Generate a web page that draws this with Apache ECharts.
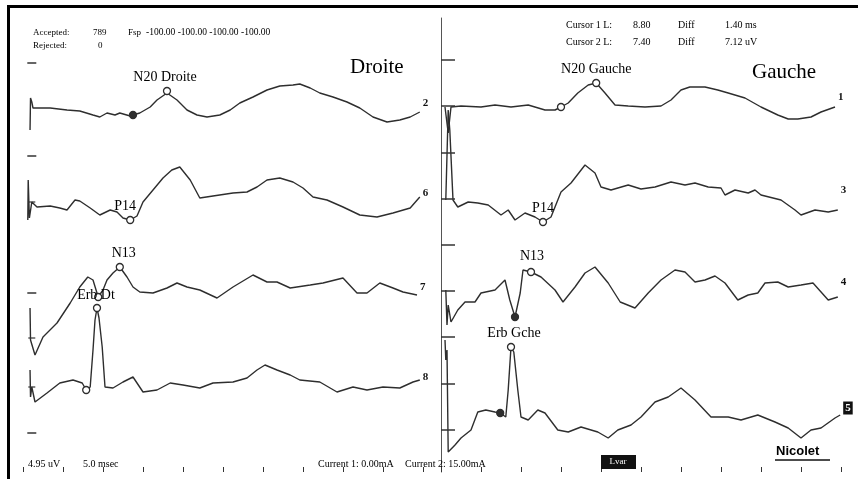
<!DOCTYPE html>
<html>
<head>
<meta charset="utf-8">
<script src="https://cdn.jsdelivr.net/npm/echarts@6/dist/echarts.min.js"></script>
<style>
html, body { margin: 0; padding: 0; background: #fff; }
#chart { width: 858px; height: 479px; }
</style>
</head>
<body>
<div id="chart"></div>
<script>
// traces: [time ms, amplitude uV] relative to each channel baseline
var droite2 = [[0.88,-2.2],[0.94,1.0],[1.1,0.6],[1.25,0],[3.4,0],[5.5,-0.2],[7.1,-0.3],[8.75,-0.7],[9.6,-0.9],[10.5,-0.5],[11.5,-0.7],[12.1,-0.5],[13.4,-0.8],[13.75,-0.7],[14.6,-0.5],[15.9,0.1],[16.75,0.8],[18.0,1.5],[19.25,0.8],[20.5,-0.2],[21.75,-0.7],[23.0,-0.9],[24.6,-0.7],[25.9,-0.2],[27.1,0.5],[28.75,1.1],[30.5,1.8],[32.1,2.2],[33.75,2.3],[34.6,2.4],[35.9,2.0],[37.1,1.5],[38.75,1.1],[40.5,0.6],[42.1,0],[43.75,-0.9],[45.5,-1.4],[47.1,-1.2],[48.4,-0.9],[49.6,-0.4]];
var droite6 = [[0.6,-1.2],[0.65,2.8],[0.8,-1.0],[1.1,0.6],[1.75,0.1],[3.4,0.2],[4.6,0],[5.5,-0.2],[6.5,0.8],[7.1,0.7],[8.4,0],[9.6,-0.7],[10.9,-0.2],[11.75,-0.4],[12.5,-1.0],[13.4,-1.2],[14.25,-0.8],[15.0,0.6],[16.25,1.8],[17.5,3.0],[18.6,3.8],[19.6,4.1],[20.9,2.8],[22.1,1.0],[23.75,1.2],[26.25,1.5],[28.0,1.6],[29.25,2.1],[30.5,2.8],[32.1,3.0],[33.75,2.6],[35.0,2.0],[36.25,1.1],[38.0,0.8],[40.0,0.1],[42.1,-0.7],[44.25,-0.9],[46.25,-0.5],[48.4,0],[49.6,1.1]];
var droite7 = [[0.88,-1.8],[0.94,-5.0],[1.1,-4.8],[1.5,-6.5],[2.5,-4.7],[4.25,-3.3],[5.9,-1.3],[7.1,0.3],[8.1,1.3],[8.75,1.0],[9.4,-0.7],[10.0,0],[10.5,1.0],[11.25,1.7],[12.1,2.3],[13.0,1.3],[13.75,0.3],[14.6,-0.2],[16.25,-0.3],[18.0,0.2],[19.25,0.7],[20.5,0.3],[22.1,0],[24.25,-0.8],[26.25,0.3],[28.75,1.5],[30.5,0.8],[31.75,0.8],[33.4,0.2],[35.9,0.5],[37.5,0.7],[40.0,1.2],[41.75,-0.3],[43.0,-0.3],[44.6,0.7],[46.25,0.2],[47.5,-0.2],[49.25,-0.5]];
var droite8 = [[0.88,1.5],[0.94,-1.2],[1.1,-0.2],[1.5,-1.7],[3.0,-0.8],[4.6,0.2],[6.25,0.5],[7.4,0.2],[7.9,-0.5],[8.4,-0.2],[8.75,3.5],[9.0,6.5],[9.25,7.7],[9.5,6.7],[9.9,3.8],[10.25,-0.2],[11.25,-0.3],[12.5,0.3],[13.75,0.8],[15.0,-0.7],[16.75,-0.5],[18.4,0.2],[20.0,0],[22.1,-0.3],[23.75,0.2],[26.25,0.3],[28.0,0.7],[29.25,1.5],[30.25,2.0],[31.75,1.5],[33.4,1.0],[34.6,0.5],[37.1,0.3],[39.25,-0.7],[41.25,-0.2],[43.0,-0.5],[45.0,-0.2],[47.1,-0.3],[48.75,0.3],[49.6,0.5]];
var gauche1 = [[0.5,0],[0.9,-2.6],[1.25,0],[2.5,0.1],[5.0,0],[6.75,0.2],[8.75,0],[10.9,0.2],[13.0,-0.3],[14.25,-0.3],[15.0,0],[15.9,0.4],[17.1,1.4],[18.4,2.2],[19.4,2.4],[20.5,1.4],[21.75,0.2],[23.4,0.1],[25.5,0],[27.5,0.1],[28.75,0.7],[30.0,1.7],[31.1,2.0],[33.0,2.0],[34.6,1.7],[35.9,1.4],[38.0,0.9],[40.0,0],[42.1,-0.8],[43.4,-1.2],[44.6,-1.2],[46.25,-1.0],[47.5,-0.5],[49.25,0]];
var gauche3 = [[0.6,0.5],[0.9,9.5],[1.1,7.5],[1.5,0.5],[2.1,-0.2],[3.4,0.3],[4.6,0.2],[5.9,0],[7.5,-1.0],[8.4,-0.5],[9.25,-1.5],[10.5,-0.8],[11.75,-1.2],[12.75,-1.7],[13.75,-1.2],[15.0,1.3],[16.25,2.2],[18.0,4.0],[19.25,3.2],[20.0,1.8],[21.25,1.5],[23.4,2.0],[25.0,1.6],[26.75,1.8],[28.75,2.3],[30.5,2.0],[31.75,2.2],[33.4,1.8],[35.0,1.7],[35.5,1.0],[36.75,1.5],[38.4,1.2],[39.25,1.5],[40.0,1.0],[42.5,0.5],[44.25,-0.5],[45.0,-1.0],[46.75,-0.5],[48.4,-0.7],[49.6,-0.5]];
var gauche4 = [[0.6,0],[0.75,-3.5],[0.9,-1.5],[1.25,-3.2],[2.1,-2.0],[3.0,-1.2],[4.25,-1.2],[5.0,-0.3],[6.75,0],[8.0,1.0],[8.6,-1.0],[9.25,-2.7],[9.9,-0.3],[10.25,2.0],[11.25,1.8],[12.5,1.3],[14.25,0],[15.25,-1.2],[16.75,0.3],[18.0,1.7],[19.25,2.3],[20.9,0.7],[22.4,-1.2],[24.25,-1.8],[25.9,-0.3],[27.5,1.0],[29.25,2.0],[30.5,1.8],[31.75,0.8],[33.0,1.0],[34.25,1.4],[35.5,0.7],[37.1,-1.0],[38.4,-0.5],[39.6,-0.3],[40.5,0.7],[42.1,0.8],[43.4,0.3],[45.0,0.5],[46.5,0.7],[48.4,-1.0],[49.6,-0.7]];
var gauche5 = [[0.5,8.0],[0.6,6.0],[0.75,7.0],[0.9,-3.2],[1.75,-2.5],[2.5,-1.8],[3.75,-1.0],[4.6,0.8],[5.6,1.0],[6.75,0.8],[7.4,0.7],[8.1,0.3],[8.4,3.0],[8.75,7.3],[9.1,6.8],[9.6,3.0],[10.0,0.3],[10.9,0],[12.1,1.0],[13.0,0.7],[14.6,-1.0],[15.9,-1.2],[17.5,-0.7],[19.6,-1.2],[20.9,-1.8],[22.1,-1.0],[23.75,-0.5],[25.0,0.3],[26.75,1.8],[28.4,2.3],[30.0,3.2],[31.75,2.0],[33.75,0.3],[35.9,0.3],[37.5,0],[39.6,0.5],[41.75,-0.2],[43.4,-0.8],[45.0,-1.8],[46.25,-1.0],[47.5,-0.8],[49.25,0.2],[49.9,0.5]];

// cursors: [time ms, amplitude uV, label, filled]
var droite2Cursors = [[13.75,-0.7,'',1],[18.0,1.7,'N20 Droite',0]];
var droite6Cursors = [[13.4,-1.2,'P14',0]];
var droite7Cursors = [[9.4,-0.7,'',0],[12.1,2.3,'N13',0]];
var droite8Cursors = [[7.9,-0.5,'',0],[9.25,7.7,'Erb Dt',0]];
var gauche1Cursors = [[15.0,0,'',0],[19.4,2.4,'N20 Gauche',0]];
var gauche3Cursors = [[12.75,-1.7,'P14',0]];
var gauche4Cursors = [[9.25,-2.7,'',1],[11.25,1.8,'N13',0]];
var gauche5Cursors = [[7.4,0.7,'',1],[8.75,7.3,'Erb Gche',0]];

// division ticks on the vertical scales (uV level)
var droiteTickLevels = [40.9, 31.6, 17.9, 3.9];
var gaucheTickLevels = [41.2, 36.6, 31.9, 27.3, 22.7, 18.1, 13.5, 8.8, 4.2];
var droiteCrossLevels = [27.0, 13.4, 8.5];

var ink = '#2e2e2e';
var serif = 'Liberation Serif';

var channels = [
  {name: '2', panel: 0, trace: droite2, base: 36.4, cursors: droite2Cursors, endOffset: [0, -9], labelOffset: [-2, 0]},
  {name: '6', panel: 0, trace: droite6, base: 26.4, cursors: droite6Cursors, endOffset: [0, -4], labelOffset: [-5, 0]},
  {name: '7', panel: 0, trace: droite7, base: 18.2, cursors: droite7Cursors, endOffset: [0, -8], labelOffset: [4, 0]},
  {name: '8', panel: 0, trace: droite8, base: 8.7, cursors: droite8Cursors, endOffset: [0, -3], labelOffset: [-1, 1]},
  {name: '1', panel: 1, trace: gauche1, base: 36.5, cursors: gauche1Cursors, endOffset: [0, -10], labelOffset: [0, 0]},
  {name: '3', panel: 1, trace: gauche3, base: 26.7, cursors: gauche3Cursors, endOffset: [0, -20], labelOffset: [0, 0]},
  {name: '4', panel: 1, trace: gauche4, base: 18.2, cursors: gauche4Cursors, endOffset: [0, -15], labelOffset: [1, -2]},
  {name: '5', panel: 1, trace: gauche5, base: 5.2, cursors: gauche5Cursors, endOffset: [0, -7], labelOffset: [3, 0], boxed: true}
];

var series = [];
channels.forEach(function (ch) {
  series.push({
    type: 'line',
    xAxisIndex: ch.panel,
    yAxisIndex: ch.panel,
    data: ch.trace.map(function (p) { return [p[0], p[1] + ch.base]; }),
    symbol: 'none',
    lineStyle: {color: ink, width: 1.4},
    endLabel: {
      show: true,
      formatter: ch.name,
      offset: ch.endOffset,
      distance: 3,
      fontFamily: serif,
      fontWeight: 'bold',
      fontSize: 11,
      color: ch.boxed ? '#fff' : '#111',
      backgroundColor: ch.boxed ? '#111' : 'transparent',
      padding: ch.boxed ? [1, 2] : 0
    },
    z: 2
  });
  series.push({
    type: 'scatter',
    xAxisIndex: ch.panel,
    yAxisIndex: ch.panel,
    symbol: 'circle',
    symbolSize: 7,
    itemStyle: {opacity: 1},
    data: ch.cursors.map(function (c) {
      return {
        value: [c[0], c[1] + ch.base],
        itemStyle: {color: c[3] ? ink : '#fff', borderColor: ink, borderWidth: 1.3, opacity: 1},
        label: {
          show: !!c[2],
          formatter: c[2],
          position: 'top',
          distance: 3,
          offset: ch.labelOffset,
          fontFamily: serif,
          fontSize: 14,
          color: '#000',
          opacity: 1
        }
      };
    }),
    z: 3
  });
});

// vertical scale ticks
series.push({
  type: 'scatter', xAxisIndex: 0, yAxisIndex: 0,
  symbol: 'rect', symbolSize: [9, 1.5],
  itemStyle: {color: '#333', opacity: 1},
  data: droiteTickLevels.map(function (v) { return [1.1, v]; })
});
series.push({
  type: 'scatter', xAxisIndex: 0, yAxisIndex: 0,
  symbol: 'rect', symbolSize: [7, 1.2],
  itemStyle: {color: '#333', opacity: 1},
  data: droiteCrossLevels.map(function (v) { return [1.1, v]; })
});
series.push({
  type: 'scatter', xAxisIndex: 1, yAxisIndex: 1,
  symbol: 'rect', symbolSize: [14, 1.5], symbolOffset: [7, 0],
  itemStyle: {color: '#333', opacity: 1},
  data: gaucheTickLevels.map(function (v) { return [0, v]; })
});

var panels = [{left: 23, right: 435}, {left: 441, right: 17}];

function txt(s, x, y, size, extra) {
  var st = {text: s, x: x, y: y, fontFamily: serif, fontSize: size, fill: '#000', verticalAlign: 'middle'};
  for (var k in extra) st[k] = extra[k];
  return {type: 'text', style: st, z: 10};
}

var graphics = [
  {type: 'rect', shape: {x: 8, y: 5, width: 850, height: 3}, style: {fill: '#000'}},
  {type: 'rect', shape: {x: 7, y: 5, width: 3, height: 474}, style: {fill: '#000'}},
  txt('Accepted:', 33, 33, 9),
  txt('789', 93, 33, 9),
  txt('Fsp', 128, 33, 9),
  txt('-100.00 -100.00 -100.00 -100.00', 146, 32, 9.5),
  txt('Rejected:', 33, 46, 9),
  txt('0', 98, 46, 9),
  txt('Droite', 350, 67, 21),
  txt('Cursor 1 L:', 566, 25, 10),
  txt('8.80', 633, 25, 10),
  txt('Diff', 678, 25, 10),
  txt('1.40 ms', 725, 25, 10),
  txt('Cursor 2 L:', 566, 42, 10),
  txt('7.40', 633, 42, 10),
  txt('Diff', 678, 42, 10),
  txt('7.12 uV', 725, 42, 10),
  txt('Gauche', 752, 72, 21),
  txt('4.95 uV', 28, 464, 10),
  txt('5.0 msec', 83, 464, 10),
  txt('Current 1: 0.00mA', 318, 464, 10),
  txt('Current 2: 15.00mA', 405, 464, 10),
  {type: 'rect', shape: {x: 601, y: 455, width: 35, height: 14}, style: {fill: '#111'}, z: 9},
  txt('Lvar', 618, 462, 9, {fill: '#fff', align: 'center'}),
  txt('Nicolet', 776, 451, 13, {fontFamily: 'Liberation Sans', fontWeight: 'bold'}),
  {type: 'line', shape: {x1: 775, y1: 460, x2: 830, y2: 460}, style: {stroke: '#111', lineWidth: 1.5}}
];

var chart = echarts.init(document.getElementById('chart'));
chart.setOption({
  animation: false,
  backgroundColor: '#fff',
  grid: panels.map(function (p) { return {left: p.left, right: p.right, top: 18, bottom: 7}; }),
  xAxis: panels.map(function (p, i) {
    return {
      type: 'value', gridIndex: i, min: 0, max: 50, interval: 5,
      axisLine: {show: false},
      axisTick: {show: true, inside: true, length: 5, lineStyle: {color: '#333', width: 1}},
      axisLabel: {show: false},
      splitLine: {show: false}
    };
  }),
  yAxis: panels.map(function (p, i) {
    return {
      type: 'value', gridIndex: i, min: 0, max: 45.4,
      axisLine: {show: i === 1, onZero: false, lineStyle: {color: '#555', width: 1}},
      axisTick: {show: false},
      axisLabel: {show: false},
      splitLine: {show: false}
    };
  }),
  graphic: graphics,
  series: series
});
</script>
</body>
</html>
